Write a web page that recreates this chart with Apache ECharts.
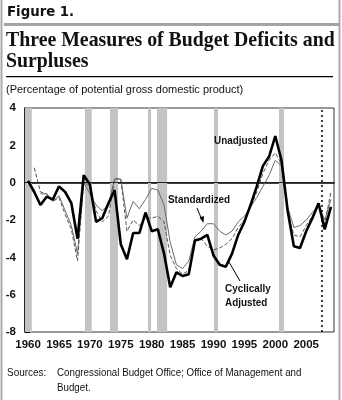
<!DOCTYPE html>
<html><head><meta charset="utf-8">
<script src="https://cdn.jsdelivr.net/npm/echarts@6/dist/echarts.min.js"></script>
<style>html,body{margin:0;padding:0;background:#fff}#c{width:342px;height:400px}</style>
</head><body><div id="c"></div>
<script>
// ---- data ----
var years = [];
for (var y = 1960; y <= 2009; y++) years.push(String(y));

var unadjusted = [0.1,-0.5,-1.2,-0.75,-0.9,-0.2,-0.5,-1.1,-3.0,0.4,
  -0.1,-2.1,-1.9,-1.1,-0.4,-3.3,-4.1,-2.7,-2.7,-1.6,
  -2.6,-2.5,-3.8,-5.6,-4.8,-5.0,-4.9,-3.1,-3.0,-2.8,
  -3.9,-4.4,-4.5,-3.8,-2.8,-2.1,-1.2,-0.2,0.9,1.4,
  2.5,1.2,-1.5,-3.4,-3.5,-2.6,-1.9,-1.1,-2.5,-1.3];

var standardized = [null,null,-0.6,-0.6,-1.0,-0.7,-1.5,-2.3,-3.8,0.0,
  -0.6,-1.2,-1.5,-1.2,0.2,0.2,-1.9,-1.0,-1.4,-0.9,
  -0.3,-0.4,-1.2,-3.2,-4.4,-4.6,-4.2,-2.9,-2.6,-2.2,
  -2.2,-2.6,-2.8,-2.6,-2.1,-1.8,-1.3,-0.8,-0.2,0.4,
  1.2,0.9,-1.3,-2.4,-2.3,-2.0,-1.6,-1.2,-2.0,-0.9];

var cyclicallyAdjusted = [null,0.8,-0.5,-0.6,-1.0,-0.8,-1.7,-2.5,-4.2,0.1,
  -0.3,-1.5,-2.1,-1.8,0.2,0.2,-2.6,-2.0,-2.3,-1.9,
  -1.9,-1.8,-2.1,-3.9,-4.6,-4.9,-4.7,-3.1,-3.0,-3.4,
  -3.6,-3.5,-3.3,-3.0,-2.4,-2.0,-1.3,-0.5,0.5,1.2,
  1.6,1.0,-1.6,-2.8,-2.9,-2.3,-1.8,-1.2,-2.2,-0.5];

var recessions = [[1959.5,1960.6],[1969.2,1970.3],[1973.25,1974.55],[1979.4,1979.9],
  [1980.86,1982.5],[1990.08,1990.73],[2000.6,2001.4]];
var projectionStart = 2007.5;
var yTicks = {min:-8, max:4, interval:2};

// ---- chart ----
var chart = echarts.init(document.getElementById('c'), null, {renderer:'canvas'});
var lab = {fontFamily:'Liberation Sans', fontWeight:'bold', fontSize:11.5, color:'#111'};
var txt = function(x, y, s, font, sx){
  return {type:'text', x:x, y:y, scaleX:sx||1, z:10,
    style:{text:s, x:0, y:0, font:font, fill:'#111', align:'left', verticalAlign:'middle'}};
};
var option = {
  animation:false,
  grid:{left:25, right:8, top:108, bottom:68, show:true, borderColor:'#333', borderWidth:1},
  xAxis:[{
    type:'category', data:years, boundaryGap:true,
    axisLine:{lineStyle:{color:'#000', width:1.5}},
    axisTick:{inside:true, interval:0, length:3, lineStyle:{color:'#000'}},
    axisLabel:Object.assign({interval:4, margin:7}, lab),
    splitLine:{show:false}
  },{
    type:'value', min:1959.5, max:2009.5, show:false, splitLine:{show:false}
  }],
  yAxis:{type:'value', min:yTicks.min, max:yTicks.max, interval:yTicks.interval,
    axisLine:{show:true, lineStyle:{color:'#000', width:1.5}},
    axisTick:{show:true, inside:true, length:5, lineStyle:{color:'#000'}},
    axisLabel:Object.assign({margin:9}, lab),
    splitLine:{show:false}},
  series:[
    {type:'line', xAxisIndex:1, data:[], silent:true, z:1,
      markArea:{silent:true, itemStyle:{color:'#c3c3c3'},
        data:recessions.map(function(r){return [{xAxis:r[0]},{xAxis:r[1]}];})},
      markLine:{silent:true, symbol:'none', label:{show:false},
        data:[{xAxis:projectionStart, lineStyle:{type:[2,3], color:'#000', width:1.5}}]}
    },
    {name:'Standardized', type:'line', data:standardized, symbol:'none', z:3,
      lineStyle:{color:'#6a6a6a', width:1},
      markLine:{silent:true, symbol:'none', label:{show:false},
        data:[{yAxis:0, lineStyle:{type:'solid', color:'#222', width:1}}]}},
    {name:'Cyclically Adjusted', type:'line', data:cyclicallyAdjusted, symbol:'none', z:4,
      lineStyle:{color:'#555', width:1, type:[4,2]}},
    {name:'Unadjusted', type:'line', data:unadjusted, symbol:'none', z:5,
      lineStyle:{color:'#000', width:2.6}}
  ],
  graphic:[
    {type:'line', shape:{x1:1.5,y1:0,x2:1.5,y2:400}, style:{stroke:'#aaa', lineWidth:2}},
    {type:'line', shape:{x1:339.5,y1:0,x2:339.5,y2:400}, style:{stroke:'#aaa', lineWidth:2}},
    {type:'rect', shape:{x:4,y:23,width:335,height:3}, style:{fill:'#a4a4a4'}},
    {type:'rect', shape:{x:6,y:76,width:327,height:1.3}, style:{fill:'#000'}},
    txt(7, 12.5, 'Figure 1.', 'bold 14px DejaVu Sans', 0.95),
    txt(6, 40, 'Three Measures of Budget Deficits and', 'bold 22px Liberation Serif', 0.9),
    txt(6, 61, 'Surpluses', 'bold 22px Liberation Serif', 0.9),
    txt(6, 90, '(Percentage of potential gross domestic product)', '11px Liberation Sans', 1),
    txt(214, 141, 'Unadjusted', 'bold 11px Liberation Sans', 0.9),
    txt(168, 200, 'Standardized', 'bold 11px Liberation Sans', 0.9),
    {type:'line', shape:{x1:197,y1:208,x2:202,y2:220}, style:{stroke:'#000', lineWidth:1}, z:10},
    {type:'polygon', shape:{points:[[203.5,223],[199.5,217.5],[204,216]]}, style:{fill:'#000'}, z:10},
    txt(225, 289, 'Cyclically', 'bold 11px Liberation Sans', 0.9),
    txt(225, 303, 'Adjusted', 'bold 11px Liberation Sans', 0.9),
    {type:'line', shape:{x1:240,y1:281,x2:229,y2:262}, style:{stroke:'#000', lineWidth:1}, z:10},
    txt(7, 373, 'Sources:', '10.5px Liberation Sans', 0.95),
    txt(57, 373, 'Congressional Budget Office; Office of Management and', '10.5px Liberation Sans', 0.93),
    txt(57, 388, 'Budget.', '10.5px Liberation Sans', 0.93)
  ]
};
chart.setOption(option);
</script></body></html>
